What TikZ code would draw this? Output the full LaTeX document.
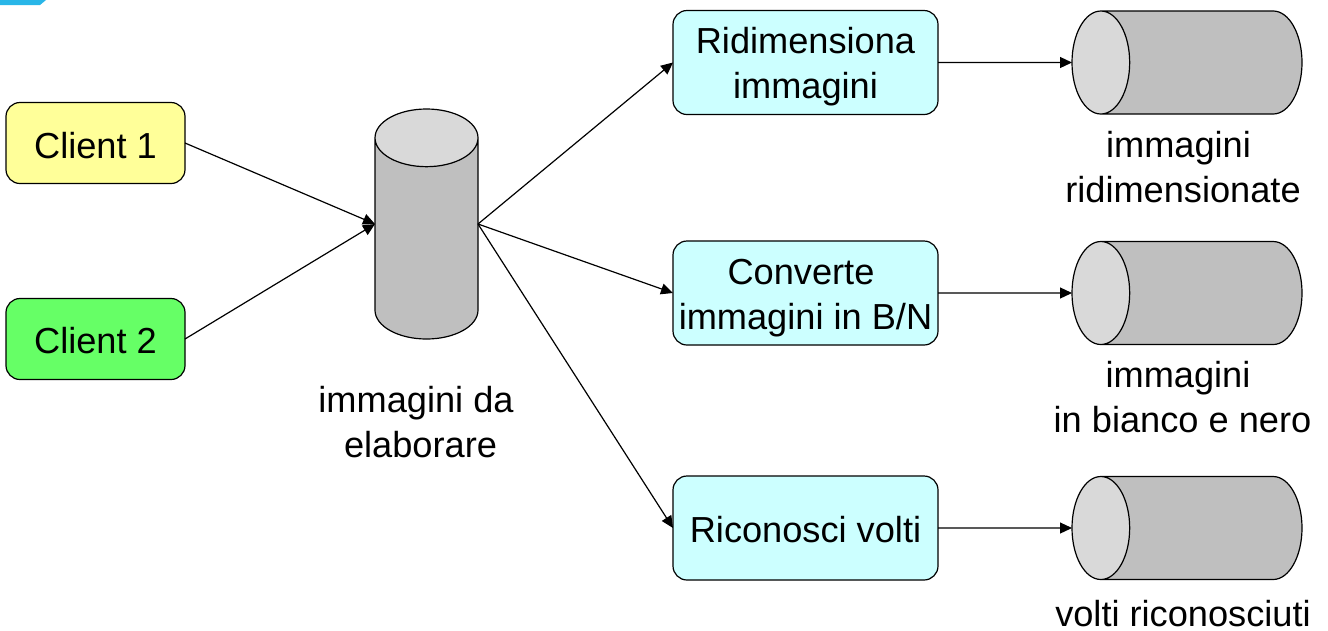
\documentclass[tikz,border=0pt]{standalone}
\usepackage{fontspec}
\setmainfont{Liberation Sans}
\usetikzlibrary{arrows.meta,shapes.geometric}
\definecolor{clientyellow}{HTML}{FFFF99}
\definecolor{clientgreen}{HTML}{66FF66}
\definecolor{proccyan}{HTML}{CCFFFF}
\definecolor{cornerblue}{HTML}{29B6E8}
\newcommand{\droptext}[1]{\rule{0pt}{#1}}
\tikzset{
	txt/.style={font=\fontsize{36.2}{45}\selectfont,align=center,inner sep=0pt},
	box/.style={draw,rounded corners=14pt,line width=1.2pt,minimum height=81pt,minimum width=179pt,outer sep=0pt,txt},
	proc/.style={box,fill=proccyan,minimum width=265pt,minimum height=104pt},
	store/.style={draw,cylinder,cylinder uses custom fill,cylinder body fill=black!25,cylinder end fill=black!15,line width=1.2pt,minimum height=230pt,minimum width=103pt,aspect=0.56,inner sep=51.5pt,outer sep=0pt,anchor=shape center},
	conn/.style={-{Triangle[length=12pt,width=11pt]},line width=1.2pt}
}
\begin{document}
\begin{tikzpicture}[x=1pt,y=-1pt]
	\useasboundingbox (0,0) rectangle (1328,630);
	\fill[cornerblue] (0,0) -- (46,0) -- (40,5) -- (0,5) -- cycle;
	\node[box,fill=clientyellow] (c1) at (95.5,143){\droptext{31pt}Client 1};
	\node[box,fill=clientgreen] (c2) at (95.5,339){\droptext{30pt}Client 2};
	\node[store,shape border rotate=90] (db) at (426.5,224){};
	\coordinate (dbin) at (db.shape center -| db.west);
	\coordinate (dbout) at (db.shape center -| db.east);
	\node[txt] (dbl) at (416,422){immagini da\\\kern9pt elaborare};
	\node[proc] (p1) at (805.5,62.5){\droptext{35pt}Ridimensiona\\immagini};
	\node[proc] (p2) at (805.5,293){\droptext{35pt}Converte\kern9pt\\immagini in B/N};
	\node[proc] (p3) at (805.5,528){\droptext{30pt}Riconosci volti};
	\node[store,shape border rotate=180] (s1) at (1187,62.5){};
	\node[store,shape border rotate=180] (s2) at (1187,293){};
	\node[store,shape border rotate=180] (s3) at (1187,528){};
	\node[txt] (l1) at (1183,167){immagini\kern9pt\\ridimensionate};
	\node[txt] (l2) at (1182.5,397){immagini\kern9pt\\in bianco e nero};
	\node[txt] (l3) at (1183,614){volti riconosciuti};
	\draw (c1.east) edge [conn] (dbin);
	\draw (c2.east) edge [conn] (dbin);
	\draw (dbout) edge [conn] (p1.west);
	\draw (dbout) edge [conn] (p2.west);
	\draw (dbout) edge [conn] (p3.west);
	\draw (p1.east) edge [conn] (s1.west);
	\draw (p2.east) edge [conn] (s2.west);
	\draw (p3.east) edge [conn] (s3.west);
\end{tikzpicture}
\end{document}
